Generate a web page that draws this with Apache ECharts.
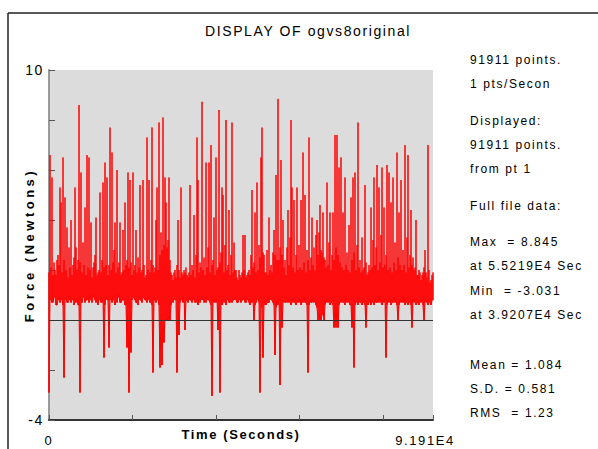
<!DOCTYPE html>
<html>
<head>
<meta charset="utf-8">
<script src="https://cdn.jsdelivr.net/npm/echarts@6/dist/echarts.min.js"></script>
<style>
  html, body { margin: 0; padding: 0; background: #fff; }
  #chart { width: 598px; height: 449px; }
  #chart svg text { letter-spacing: 1.6px; }
</style>
</head>
<body>
<div id="chart"></div>
<script>
// ---- data (decimated: per screen column, highest and lowest force) ----
const titleText = 'DISPLAY OF ogvs8original';
const xAxisName = 'Time (Seconds)';
const yAxisName = 'Force (Newtons)';
const timeStart = 0;
const timeEnd = 91911;
const xTickLabels = { 0: '0', 91911: '9.191E4' };
const yTickLabels = { 10: '10', '-4': '-4' };
const yMin = -4, yMax = 10, yStep = 2;
const xStep = 20000;

const columnHigh = [
  1.9, 6.6, 2.1, 5.7, 1.8, 2.3, 2.0, 1.8, 2.4, 2.6,
  2.2, 5.3, 4.7, 1.9, 6.5, 2.4, 4.9, 2.0, 3.7, 1.7,
  2.9, 2.1, 4.0, 1.8, 2.2, 2.5, 5.3, 2.9, 2.0, 2.4,
  8.6, 2.3, 5.9, 1.9, 3.1, 2.2, 4.5, 1.8, 6.6, 2.1,
  6.5, 2.0, 3.9, 1.7, 2.1, 2.3, 2.6, 4.1, 1.8, 1.9,
  2.0, 5.1, 1.9, 2.4, 5.5, 2.1, 6.3, 2.2, 5.7, 1.8,
  2.2, 7.7, 2.0, 6.7, 2.3, 2.8, 3.9, 1.9, 6.0, 2.1,
  2.3, 3.9, 1.8, 1.9, 3.6, 2.0, 4.7, 2.2, 2.4, 5.9,
  2.1, 5.6, 2.3, 1.8, 5.9, 2.0, 2.2, 3.6, 1.9, 2.5,
  2.1, 5.4, 1.9, 2.0, 5.6, 2.2, 1.7, 1.8, 7.3, 2.0,
  5.6, 1.9, 2.4, 7.7, 2.2, 1.9, 2.1, 4.0, 5.3, 2.0,
  7.9, 2.6, 3.5, 2.8, 8.1, 3.0, 5.7, 4.7, 2.9, 3.2,
  5.7, 2.4, 1.9, 1.8, 1.6, 1.9, 2.0, 1.7, 2.2, 4.0,
  2.0, 1.7, 5.3, 1.9, 1.8, 2.0, 1.9, 2.1, 1.8, 1.7,
  1.9, 5.4, 1.8, 2.2, 2.0, 4.2, 1.7, 2.6, 7.3, 5.6,
  1.9, 2.3, 2.1, 8.73, 2.0, 2.5, 1.8, 6.3, 2.1, 2.9,
  6.3, 1.9, 7.0, 2.2, 2.4, 4.1, 1.8, 6.5, 2.0, 2.1,
  8.4, 2.3, 2.7, 5.3, 5.0, 1.9, 3.0, 8.0, 2.0, 2.2,
  4.4, 1.8, 2.6, 7.9, 1.9, 3.1, 2.0, 2.0, 1.7, 1.6,
  2.0, 1.8, 1.7, 1.9, 3.4, 2.0, 3.4, 1.7, 1.8, 1.9,
  2.0, 1.8, 2.6, 5.2, 2.1, 2.3, 4.3, 1.9, 5.5, 2.0,
  3.0, 2.5, 6.5, 7.7, 2.7, 2.6, 1.9, 1.9, 2.8, 1.8,
  4.1, 2.0, 2.2, 1.9, 2.7, 3.6, 2.6, 5.8, 2.4, 8.845,
  2.4, 2.9, 6.4, 2.6, 4.0, 2.1, 2.4, 1.8, 2.9, 4.4,
  2.2, 3.3, 8.0, 5.3, 2.1, 4.8, 1.9, 2.6, 5.3, 2.0,
  3.0, 2.1, 4.8, 2.0, 6.7, 2.3, 5.0, 1.9, 2.8, 2.4,
  7.3, 2.0, 2.5, 4.1, 2.2, 2.9, 2.0, 3.4, 4.0, 2.6,
  3.5, 4.6, 2.8, 2.7, 4.3, 2.5, 2.4, 2.1, 5.5, 2.2,
  3.1, 4.3, 2.0, 2.6, 4.3, 2.4, 7.4, 2.9, 7.4, 2.6,
  6.1, 2.3, 6.5, 2.1, 4.3, 2.0, 5.7, 2.2, 2.7, 2.0,
  3.8, 1.9, 4.9, 2.4, 5.7, 2.7, 5.9, 2.0, 3.0, 7.9,
  2.1, 2.4, 1.9, 3.3, 2.0, 2.1, 5.4, 2.3, 1.8, 1.9,
  2.2, 2.0, 4.5, 2.1, 3.2, 5.7, 2.2, 2.9, 6.2, 2.0,
  5.3, 2.3, 3.4, 6.1, 2.1, 4.5, 2.2, 2.6, 6.2, 2.0,
  5.9, 2.1, 4.7, 1.9, 5.7, 2.3, 3.1, 2.0, 6.7, 2.5,
  4.3, 2.2, 5.6, 2.0, 2.8, 2.2, 7.0, 1.9, 3.3, 6.6,
  2.1, 2.6, 4.4, 2.2, 2.5, 2.0, 2.1, 4.0, 1.8, 1.8,
  2.0, 1.9, 1.6, 1.8, 1.9, 2.1, 2.8, 1.9, 1.7, 7.0,
  2.0, 1.5, 1.6, 1.8, 1.9
];

const columnLow = [
  -2.9, 0.9, 0.8, 0.7, 0.7, 1.0, 0.9, 0.6, 0.6, 0.8,
  1.0, 0.7, 0.9, 0.8, 0.6, -2.3, 0.8, 0.9, 0.7, 0.7,
  0.8, 1.1, 0.7, 0.8, 0.9, 0.6, 0.8, 0.7, 0.9, 0.6,
  0.6, -2.9, 0.8, 0.7, 0.9, 1.0, 0.7, 0.8, 0.8, 0.9,
  0.7, 1.1, 0.8, 0.7, 0.9, 1.0, 0.8, 0.7, 0.8, 0.6,
  0.9, 0.8, 0.7, 0.7, 0.9, -1.5, 0.6, 1.0, 0.8, 0.8,
  -1.1, 0.8, 0.9, 0.7, 1.0, 0.8, 0.6, 0.8, 0.7, 1.1,
  0.9, 0.7, 0.7, 0.8, 0.8, 0.8, 0.6, 0.6, -1.1, 0.7,
  -2.9, 0.7, -1.3, 0.8, 0.9, 0.9, 0.8, 0.7, 0.7, 0.6,
  1.0, 0.8, 0.8, 0.7, 0.9, 0.9, 0.8, 0.8, 0.7, 1.0,
  0.8, 0.7, 0.7, 0.6, -2.1, 0.8, 0.8, 0.7, 0.8, 0.9,
  0.6, -1.9, 0.3, -1.8, 0.2, -0.9, 0.1, 0.0, 0.1, 0.0,
  0.2, 0.0, 0.6, 0.8, 0.7, 0.9, 0.8, 0.8, -2.1, 0.7,
  -0.6, 0.7, 0.8, 0.9, 0.7, 1.0, -0.4, 0.8, 0.8, 0.7,
  0.9, 0.8, 0.8, 0.7, 1.0, 0.8, 0.7, 0.7, 0.8, 0.6,
  0.8, 0.7, 1.0, 0.8, 0.9, 0.7, 0.8, 0.7, 1.0, 0.8,
  0.8, 0.7, 0.6, -3.031, 0.8, 0.7, 0.8, 0.7, 0.9, -0.4,
  0.7, -2.9, 0.8, 0.6, 0.7, 0.8, 0.7, 0.6, 0.9, 0.8,
  0.7, 0.7, 0.8, 0.7, 0.8, 0.8, 0.9, 0.8, 0.7, 0.7,
  0.8, 0.9, 0.7, 0.8, 0.8, 1.0, 0.7, 0.7, 0.8, 0.9,
  0.7, 0.6, 0.8, 0.7, 0.8, 0.0, 0.6, 0.7, 0.8, 0.9,
  0.7, -2.9, 0.6, 0.5, -1.5, 0.6, 0.8, 0.6, 0.7, 0.7,
  0.7, 0.9, 0.8, 0.8, 0.7, 0.6, -1.4, 0.5, 0.9, 0.6,
  1.0, -2.6, 0.6, -0.3, 0.7, 0.8, 0.7, 0.7, 0.8, 0.7,
  0.8, 0.7, 0.6, 0.7, 0.9, 0.7, 0.7, 0.6, 0.7, 0.8,
  0.7, 0.9, 0.6, 0.8, 0.7, 1.0, 0.7, 0.7, 0.6, -2.1,
  0.6, 0.8, 0.7, 0.7, 0.9, 0.7, 0.8, 0.6, 0.5, 0.0,
  0.0, 0.3, 0.0, 0.2, 0.4, 0.0, 0.6, 0.8, 0.7, 0.9,
  0.7, 0.6, 0.7, 0.7, 0.6, -0.3, 0.7, -0.3, 0.6, -0.3,
  0.6, 0.8, 0.7, 0.9, 0.7, 0.7, 0.6, 1.0, 0.7, 0.8,
  0.7, 0.6, 0.6, -0.3, 0.5, -1.9, 0.6, 0.8, 0.7, 0.6,
  0.9, 0.7, 0.7, 0.6, 0.8, 0.7, 0.6, -0.3, 0.7, 0.6,
  0.7, 0.9, 0.6, 0.8, 0.7, 0.6, 0.9, 0.7, 0.7, 0.8,
  0.7, 1.0, 0.7, 0.6, 0.8, 0.7, 0.9, -1.5, 0.6, 0.8,
  0.7, 0.9, 0.6, 0.7, 0.7, 1.0, 0.7, 0.8, 0.6, 0.0,
  0.6, 0.9, 0.7, 0.8, 0.7, 1.0, 0.6, 0.7, 0.7, 0.6,
  0.8, 0.7, 0.6, -0.3, 0.7, 0.9, 0.7, 0.6, 0.7, 0.7,
  0.6, 0.8, 0.7, 0.9, 0.6, 0.0, 0.7, 0.8, 0.7, 0.6,
  0.9, 0.7, 0.6, 0.8, 0.8
];

const infoLines = [
  '91911 points.', '1 pts/Secon', 'Displayed:', '91911 points.', 'from pt 1',
  'Full file data:', 'Max  = 8.845', 'at 5.5219E4 Sec', 'Min  = -3.031',
  'at 3.9207E4 Sec', 'Mean = 1.084', 'S.D. = 0.581', 'RMS  = 1.23'
];
const infoTops = [54, 78, 115, 139, 163, 200, 236, 260, 285, 309, 359, 383, 407];

// ---- build the envelope polyline: each column is traced low -> high -> low (vertical stroke) ----
const n = columnHigh.length;
const seriesData = [];
for (let i = 0; i < n; i++) {
  const t = timeStart + i * (timeEnd - timeStart) / (n - 1);
  seriesData.push([t, columnLow[i]], [t, columnHigh[i]], [t, columnLow[i]]);
}

const chart = echarts.init(document.getElementById('chart'), null, { renderer: 'svg' });
const FONT = '"Liberation Sans", Arial, sans-serif';

const graphics = [
  { type: 'line', shape: { x1: 8, y1: 13, x2: 598, y2: 13 }, style: { stroke: '#222', lineWidth: 1.5 }, silent: true },
  { type: 'line', shape: { x1: 8, y1: 13, x2: 8, y2: 449 }, style: { stroke: '#222', lineWidth: 1.5 }, silent: true }
];
infoLines.forEach((t, i) => {
  graphics.push({
    type: 'text', left: 470, top: infoTops[i], silent: true,
    style: { text: t, fill: '#000', font: '12px ' + FONT }
  });
});

chart.setOption({
  animation: false,
  backgroundColor: '#ffffff',
  title: {
    text: titleText,
    left: 303, top: 19, textAlign: 'center',
    textStyle: { fontFamily: FONT, fontSize: 14, fontWeight: 'normal', color: '#000' }
  },
  grid: {
    left: 49, right: 165, top: 70, bottom: 29,
    outerBoundsMode: 'none', containLabel: false,
    show: true, backgroundColor: '#dcdcdc', borderWidth: 0
  },
  xAxis: {
    type: 'value', min: timeStart, max: timeEnd, interval: xStep,
    name: xAxisName, nameLocation: 'middle', nameGap: 8, nameMoveOverlap: false,
    nameTextStyle: { fontFamily: FONT, fontSize: 13, fontWeight: 'bold', color: '#000' },
    axisLine: { show: true, onZero: false, lineStyle: { color: '#333', width: 2 } },
    axisTick: { show: true, inside: true, length: 5, lineStyle: { color: '#555' } },
    splitLine: { show: false },
    axisLabel: {
      show: true, margin: 14, showMinLabel: true, showMaxLabel: true, hideOverlap: false,
      fontFamily: FONT, fontSize: 13, color: '#000',
      formatter: (v) => (xTickLabels[v] !== undefined ? (v === timeEnd ? '{m|' + xTickLabels[v] + '}' : xTickLabels[v]) : ''),
      rich: { m: { fontFamily: FONT, fontSize: 13, color: '#000', padding: [0, 16, 0, 0] } }
    }
  },
  yAxis: {
    type: 'value', min: yMin, max: yMax, interval: yStep,
    name: yAxisName, nameLocation: 'middle', nameGap: 13, nameRotate: 90, nameMoveOverlap: false,
    nameTextStyle: { fontFamily: FONT, fontSize: 13, fontWeight: 'bold', color: '#000' },
    axisLine: { show: true, onZero: false, lineStyle: { color: '#9a9a9a', width: 2 } },
    axisTick: { show: true, inside: true, length: 6, lineStyle: { color: '#555' } },
    splitLine: { show: false },
    axisLabel: {
      show: true, margin: 5, showMinLabel: true, showMaxLabel: true,
      fontFamily: FONT, fontSize: 14, color: '#000',
      formatter: (v) => (yTickLabels[v] !== undefined ? yTickLabels[v] : '')
    }
  },
  graphic: graphics,
  series: [{
    type: 'line',
    data: seriesData,
    showSymbol: false,
    symbol: 'none',
    lineStyle: { color: '#ff0000', width: 1 },
    emphasis: { disabled: true },
    markLine: {
      silent: true, symbol: 'none', label: { show: false },
      lineStyle: { color: '#333', width: 1, type: 'solid' },
      data: [{ yAxis: 0 }]
    }
  }]
});

function spreadYName() {
  document.querySelectorAll('#chart svg text').forEach((el) => {
    if (el.textContent === yAxisName) el.style.letterSpacing = '3.5px';
  });
}
spreadYName();
chart.on('finished', spreadYName);
</script>
</body>
</html>
